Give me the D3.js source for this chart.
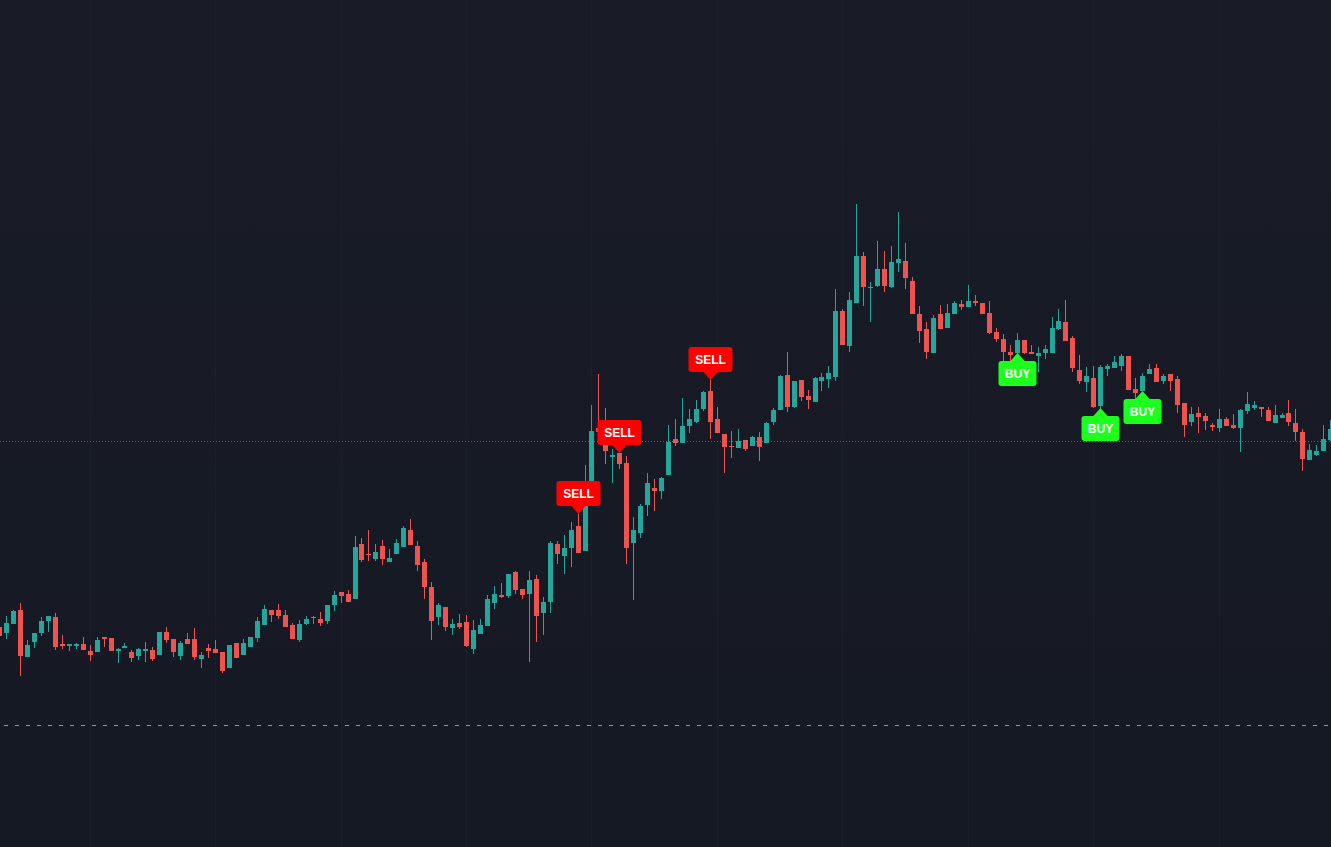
<!DOCTYPE html>
<html>
<head>
<meta charset="utf-8">
<script src="https://cdn.jsdelivr.net/npm/d3@7"></script>
<style>
  html, body { margin: 0; padding: 0; background: #161a25; overflow: hidden; }
  svg { display: block; }
</style>
</head>
<body>
<div id="chart"></div>
<script>
var svgWidth = 1331;
var svgHeight = 847;

// candle data, one value per bar (oldest first)
var opens = [
  27.3, 26.7, 27.6, 29.0, 24.3, 25.8, 26.7, 27.9, 28.3, 25.6,
  25.4, 25.4, 25.6, 24.9, 24.8, 26.3, 26.2, 24.9, 25.2, 24.8,
  24.4, 24.9, 25.0, 24.5, 26.8, 26.1, 24.4, 26.1, 26.1, 24.1,
  25.2, 25.1, 24.8, 23.2, 25.7, 24.5, 25.3, 26.2, 27.5, 29.0,
  29.0, 28.5, 27.5, 26.0, 27.6, 28.2, 28.1, 27.9, 29.5, 30.8,
  30.6, 30.1, 35.6, 34.6, 34.1, 35.4, 33.8, 34.6, 35.3, 37.0,
  35.4, 33.8, 31.3, 28.3, 29.3, 27.2, 27.7, 27.8, 25.1, 26.6,
  27.4, 29.7, 30.5, 30.4, 32.8, 31.1, 30.6, 32.1, 28.7, 29.8,
  35.6, 34.4, 35.2, 37.4, 34.9, 39.9, 47.2, 46.8, 44.3, 44.7,
  43.7, 35.7, 36.7, 39.5, 41.2, 40.9, 42.5, 46.1, 45.7, 47.4,
  47.8, 49.1, 50.9, 48.1, 46.6, 45.4, 45.2, 46.0, 45.4, 46.3,
  45.7, 47.8, 49.0, 52.5, 49.3, 52.0, 50.4, 49.8, 51.9, 52.1,
  52.3, 58.9, 55.4, 59.7, 64.4, 61.2, 61.4, 63.1, 61.3, 63.7,
  63.9, 61.9, 58.6, 57.1, 54.7, 58.6, 57.2, 58.6, 59.6, 59.3,
  59.9, 59.7, 58.7, 56.8, 56.1, 54.8, 54.7, 56.0, 54.8, 54.4,
  54.7, 54.7, 57.1, 57.8, 56.2, 53.0, 51.8, 52.2, 49.4, 53.1,
  53.2, 53.4, 54.4, 51.1, 50.9, 52.6, 53.2, 51.9, 52.6, 52.1,
  49.7, 47.8, 48.7, 48.4, 47.5, 47.2, 48.1, 47.5, 47.2, 48.9,
  49.2, 49.3, 49.0, 47.7, 48.2, 48.7, 47.7, 46.8, 44.0, 44.5,
  44.9, 46.0
];
var highs = [
  27.5, 28.4, 29.0, 29.7, 26.0, 26.7, 28.3, 28.4, 28.7, 26.5,
  25.6, 25.7, 26.3, 25.5, 26.3, 26.3, 26.2, 25.2, 25.7, 25.0,
  25.2, 25.8, 25.3, 26.8, 27.3, 26.1, 25.9, 26.7, 27.2, 24.8,
  25.6, 26.0, 24.8, 25.5, 25.7, 26.1, 26.3, 28.3, 29.5, 29.0,
  29.6, 29.0, 27.7, 28.0, 28.4, 28.4, 28.8, 29.5, 30.9, 30.8,
  31.0, 36.4, 36.2, 37.0, 35.6, 36.0, 35.1, 36.1, 37.4, 38.1,
  35.9, 34.1, 31.8, 29.7, 29.3, 28.1, 28.6, 28.5, 28.0, 28.1,
  30.5, 31.4, 31.7, 32.6, 32.9, 31.1, 32.9, 32.5, 30.3, 35.9,
  35.9, 36.5, 37.8, 38.6, 43.5, 49.5, 52.6, 49.2, 45.1, 44.7,
  44.4, 38.3, 39.6, 42.7, 42.1, 42.3, 47.5, 48.1, 50.2, 49.1,
  50.0, 50.9, 52.0, 49.3, 46.6, 46.9, 47.1, 46.0, 46.4, 46.8,
  47.8, 49.2, 52.5, 54.8, 51.9, 52.0, 51.0, 52.3, 52.7, 53.4,
  61.1, 59.1, 60.8, 69.6, 64.8, 61.8, 65.9, 64.9, 65.4, 68.8,
  65.7, 62.3, 59.4, 57.8, 58.5, 59.5, 59.6, 59.9, 60.0, 61.5,
  60.5, 59.7, 59.9, 57.2, 56.6, 55.5, 56.7, 56.0, 55.5, 55.3,
  55.5, 58.3, 59.1, 60.0, 56.4, 54.5, 53.3, 53.4, 53.5, 53.6,
  54.4, 54.6, 54.4, 52.2, 52.7, 53.6, 53.6, 52.6, 52.6, 52.4,
  49.7, 49.3, 49.3, 48.7, 47.7, 49.1, 48.3, 48.6, 49.1, 50.8,
  49.9, 49.3, 49.3, 49.5, 48.7, 50.0, 49.1, 47.1, 45.6, 45.5,
  47.5, 48.0
];
var lows = [
  26.2, 26.1, 27.6, 22.4, 24.3, 25.2, 26.4, 26.8, 25.0, 25.1,
  24.9, 25.1, 25.0, 23.9, 24.8, 25.3, 24.9, 23.7, 25.2, 23.8,
  24.0, 23.8, 23.9, 24.5, 25.7, 24.3, 24.0, 25.6, 24.0, 23.2,
  24.2, 24.7, 22.7, 23.2, 24.2, 24.5, 25.3, 25.8, 27.5, 27.8,
  28.1, 27.3, 26.1, 25.8, 27.5, 27.6, 27.4, 27.6, 28.9, 29.7,
  29.8, 30.1, 33.8, 33.9, 33.9, 33.5, 33.8, 34.6, 35.3, 35.5,
  32.9, 30.1, 26.0, 27.5, 26.9, 26.5, 27.1, 25.3, 24.6, 26.6,
  27.4, 29.1, 30.2, 30.2, 30.6, 30.1, 23.8, 25.8, 26.5, 28.7,
  33.6, 32.6, 33.3, 34.7, 34.9, 39.8, 46.8, 43.6, 41.7, 43.1,
  33.6, 30.0, 36.2, 38.4, 38.9, 40.1, 42.5, 45.4, 45.7, 46.7,
  47.7, 48.9, 46.1, 46.7, 42.7, 44.2, 45.2, 44.9, 45.4, 43.9,
  45.7, 47.5, 49.0, 48.8, 49.2, 49.9, 49.1, 49.8, 50.9, 51.2,
  51.9, 55.5, 54.8, 59.7, 59.4, 57.8, 61.3, 60.8, 61.2, 62.8,
  61.1, 58.6, 55.7, 54.1, 54.7, 57.1, 57.2, 58.6, 59.0, 59.3,
  59.4, 58.6, 56.6, 55.8, 53.9, 53.9, 54.7, 54.6, 54.6, 52.8,
  54.1, 54.7, 57.0, 55.9, 52.8, 51.6, 50.8, 49.2, 49.2, 52.4,
  53.2, 52.9, 51.0, 49.8, 50.9, 52.6, 51.8, 51.6, 50.9, 48.7,
  46.3, 47.4, 46.7, 47.0, 46.9, 46.8, 47.4, 47.1, 44.8, 48.6,
  49.0, 48.3, 47.9, 47.7, 48.2, 47.4, 45.9, 42.9, 44.0, 44.4,
  44.9, 45.9
];
var closes = [
  26.4, 27.7, 28.9, 24.4, 25.5, 26.7, 27.9, 28.4, 25.3, 25.4,
  25.6, 25.6, 25.0, 24.5, 26.0, 26.1, 24.9, 25.1, 25.4, 24.2,
  25.1, 25.1, 24.1, 26.8, 26.0, 24.8, 25.7, 25.6, 24.3, 24.5,
  24.9, 24.7, 22.9, 25.5, 24.2, 25.7, 26.3, 27.9, 29.1, 28.5,
  28.4, 27.3, 26.1, 27.6, 28.1, 28.3, 27.7, 29.5, 30.5, 30.4,
  29.8, 35.3, 34.0, 34.5, 34.8, 34.1, 34.2, 35.7, 37.2, 35.5,
  33.5, 31.3, 27.9, 29.5, 27.3, 27.6, 27.3, 25.4, 27.0, 27.5,
  30.1, 30.6, 30.3, 32.6, 31.0, 30.5, 32.0, 28.4, 29.8, 35.7,
  34.6, 35.2, 37.0, 34.7, 39.9, 46.9, 46.8, 44.9, 44.5, 43.6,
  35.2, 37.0, 39.4, 41.7, 40.9, 42.2, 45.8, 45.7, 47.4, 48.1,
  49.1, 50.8, 47.8, 46.7, 45.3, 45.3, 45.9, 45.1, 46.3, 45.3,
  47.7, 49.0, 52.4, 49.3, 51.9, 50.3, 50.0, 52.2, 52.3, 52.7,
  58.9, 55.5, 60.0, 64.4, 61.3, 61.3, 63.1, 61.4, 63.8, 64.1,
  62.2, 58.6, 56.9, 54.8, 58.2, 57.1, 58.7, 59.7, 59.3, 59.9,
  59.7, 58.6, 56.7, 56.1, 54.8, 54.5, 56.0, 54.7, 54.6, 54.7,
  55.1, 57.2, 57.9, 55.9, 53.2, 51.9, 52.4, 49.3, 53.3, 53.4,
  53.8, 54.4, 51.0, 50.7, 52.4, 53.1, 51.8, 52.4, 51.9, 49.5,
  47.5, 48.6, 48.3, 47.9, 47.3, 48.1, 47.4, 47.2, 49.0, 49.6,
  49.5, 49.1, 47.9, 48.5, 48.5, 47.8, 46.8, 44.1, 45.0, 44.9,
  46.1, 47.1
];

// strategy signals (bar index)
var sellBars = [83, 89, 102];
var buyBars = [146, 158, 164];

// reference lines
var lastPrice = 45.9;
var levelPrice = 17.5;

// bars that get a vertical grid line
var gridBars = [13, 31, 49, 67, 85, 103, 121, 139, 157, 175];

var upColor = "#26a69a";
var downColor = "#ef5350";

var data = opens.map(function (o, i) {
  return { i: i, open: o, high: highs[i], low: lows[i], close: closes[i] };
});

var svg = d3.select("#chart")
  .append("svg")
  .attr("width", svgWidth)
  .attr("height", svgHeight);

// background
var defs = svg.append("defs");
var grad = defs.append("linearGradient")
  .attr("id", "bg")
  .attr("x1", 0).attr("y1", 0).attr("x2", 0).attr("y2", 1);
grad.append("stop").attr("offset", "0%").attr("stop-color", "#191c27");
grad.append("stop").attr("offset", "100%").attr("stop-color", "#151924");

svg.append("rect")
  .attr("width", svgWidth)
  .attr("height", svgHeight)
  .attr("fill", "url(#bg)");

// scales
var step = 6.97;
var x0 = -0.47 - step / 2;
var xScale = d3.scaleBand()
  .domain(d3.range(data.length))
  .range([x0, x0 + step * data.length])
  .padding(0);

var yScale = d3.scaleLinear()
  .domain([90 - svgHeight / 10, 90])
  .range([svgHeight, 0]);

function cx(i) { return xScale(i) + xScale.bandwidth() / 2; }
function py(v) { return Math.round(yScale(v)); }

// faint vertical grid
svg.append("g")
  .selectAll("line")
  .data(gridBars)
  .enter()
  .append("line")
  .attr("x1", d => Math.floor(cx(d)) + 0.5)
  .attr("x2", d => Math.floor(cx(d)) + 0.5)
  .attr("y1", 0)
  .attr("y2", svgHeight)
  .attr("stroke", "#1b1f2b")
  .attr("stroke-width", 1);

// dashed level line
svg.append("line")
  .attr("x1", 4)
  .attr("x2", svgWidth)
  .attr("y1", py(levelPrice) + 0.5)
  .attr("y2", py(levelPrice) + 0.5)
  .attr("stroke", "#9598a1")
  .attr("stroke-width", 1)
  .attr("stroke-dasharray", "4,7");

// last price dotted line
svg.append("line")
  .attr("x1", 0)
  .attr("x2", svgWidth)
  .attr("y1", py(lastPrice) + 0.5)
  .attr("y2", py(lastPrice) + 0.5)
  .attr("stroke", "#2962ff")
  .attr("stroke-width", 1)
  .attr("stroke-dasharray", "1,2");

// candles
var candles = svg.append("g")
  .attr("shape-rendering", "crispEdges")
  .selectAll("g")
  .data(data)
  .enter()
  .append("g");

candles.append("line")
  .attr("x1", d => Math.floor(cx(d.i)) + 0.5)
  .attr("x2", d => Math.floor(cx(d.i)) + 0.5)
  .attr("y1", d => py(d.high))
  .attr("y2", d => py(d.low))
  .attr("stroke", d => d.close >= d.open ? upColor : downColor)
  .attr("stroke-width", 1);

candles.append("rect")
  .attr("x", d => Math.round(cx(d.i) - 2.5))
  .attr("width", 5)
  .attr("y", d => py(Math.max(d.open, d.close)))
  .attr("height", d => Math.max(1, py(Math.min(d.open, d.close)) - py(Math.max(d.open, d.close))))
  .attr("fill", d => d.close >= d.open ? upColor : downColor);

// signal labels
function drawLabel(i, type) {
  var isSell = type === "SELL";
  var color = isSell ? "#ff0000" : "#1cff1c";
  var tipX = Math.floor(cx(i)) + 0.5;
  var tipY = isSell ? py(highs[i]) : py(lows[i]);
  var arrowH = 8, arrowW = 8, boxH = 25;

  var g = svg.append("g");
  var label = g.append("text")
    .text(type)
    .attr("font-family", "'Liberation Sans', Arial, sans-serif")
    .attr("font-weight", "bold")
    .attr("font-size", "12px")
    .attr("fill", "#ffffff")
    .attr("text-anchor", "middle");
  var boxW = Math.round(label.node().getComputedTextLength() + 13);

  var boxTop = isSell ? tipY - arrowH - boxH : tipY + arrowH;
  var baseY = isSell ? tipY - arrowH : tipY + arrowH;

  g.insert("rect", "text")
    .attr("x", tipX - boxW / 2)
    .attr("y", boxTop)
    .attr("width", boxW)
    .attr("height", boxH)
    .attr("rx", 3)
    .attr("fill", color);

  g.insert("path", "text")
    .attr("d", `M${tipX - arrowW},${baseY + (isSell ? -1 : 1)} L${tipX},${tipY} L${tipX + arrowW},${baseY + (isSell ? -1 : 1)} Z`)
    .attr("fill", color);

  label
    .attr("x", tipX)
    .attr("y", boxTop + boxH / 2 + 4.5);
}

sellBars.forEach(i => drawLabel(i, "SELL"));
buyBars.forEach(i => drawLabel(i, "BUY"));
</script>
</body>
</html>
